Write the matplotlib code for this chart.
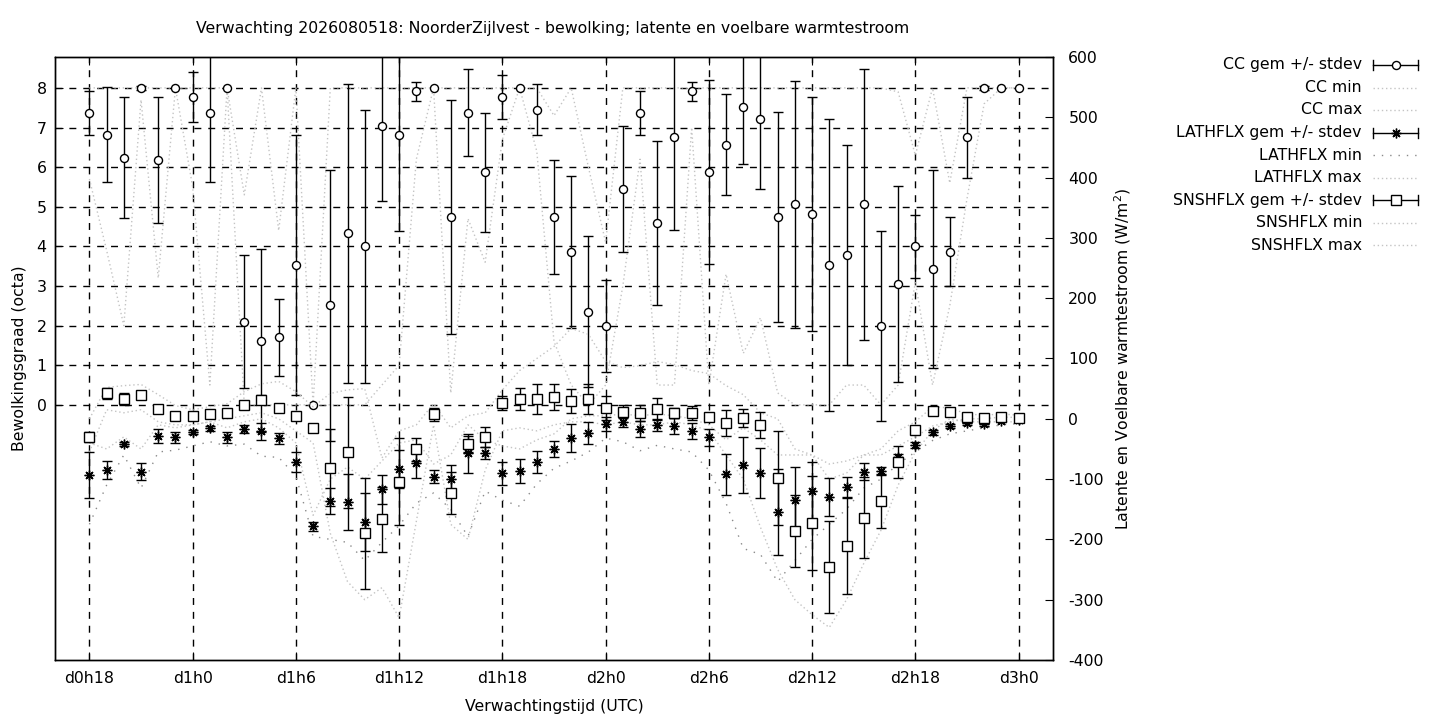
import numpy as np
import matplotlib.pyplot as plt

# === data: forecast hours 18..72 (d0h18 .. d3h0) ===
hours = list(range(18, 73))

cc_mean = [7.37, 6.82, 6.24, 8.0, 6.18, 8.0, 7.77, 7.37, 8.0, 2.1,
           1.62, 1.71, 3.53, 0.0, 2.51, 4.33, 4.0, 7.05, 6.82, 7.92,
           8.0, 4.74, 7.37, 5.87, 7.77, 8.0, 7.45, 4.74, 3.86, 2.35,
           2.0, 5.46, 7.37, 4.59, 6.75, 7.92, 5.87, 6.57, 7.52, 7.22,
           4.74, 5.06, 4.81, 3.53, 3.78, 5.06, 2.0, 3.05, 4.0, 3.43,
           3.86, 6.75, 8.0, 8.0, 8.0]
cc_std = [0.56, 1.2, 1.53, 0.05, 1.59, 0, 0.64, 1.75, 0, 1.67,
          2.31, 0.97, 3.29, 0, 3.43, 3.77, 3.44, 1.91, 2.42, 0.24,
          0, 2.96, 1.1, 1.5, 0.55, 0, 0.64, 1.43, 1.91, 1.9,
          1.16, 1.59, 0.55, 2.07, 2.34, 0.24, 2.32, 1.28, 1.43, 1.76,
          2.64, 3.11, 2.95, 3.69, 2.77, 3.42, 2.4, 2.48, 0.8, 2.5,
          0.87, 1.03, 0.05, 0, 0]
cc_min = [5.7, 3.9, 2.0, 7.7, 3.2, 8.0, 5.5, 0.5, 8.0, 0,
          0, 0, 0, 0, 0, 0, 0, 0.5, 1.0, 6.2,
          8.0, 0.3, 4.7, 3.6, 6.7, 8.0, 6.4, 1.6, 0.5, 0,
          0.5, 3.0, 6.2, 0.5, 0.5, 7.0, 0.5, 3.3, 1.3, 2.2,
          0.3, 0, 0, 0, 0.5, 0.5, 0, 0.5, 3.1, 0.5,
          2.5, 5.2, 7.6, 8.0, 8.0]
cc_max = [8, 8, 8, 8, 8, 8, 8, 8, 8, 5.3,
          8, 4.4, 8, 0, 8, 8, 8, 8, 8, 8,
          8, 8, 8, 8, 8, 8, 8, 7.3, 8, 6.0,
          4.1, 8, 8, 8, 8, 8, 8, 8, 8, 8,
          8, 8, 8, 8, 8, 8, 8, 7.9, 6.3, 8,
          5.6, 8, 8, 8, 8]

lat_mean = [-93.4, -85, -42, -88, -28.8, -31, -22, -16, -30.4, -17,
            -21, -32, -72, -178.6, -136.5, -138, -171.4, -116.6, -83.4, -73.5,
            -96.2, -100, -57.5, -56.9, -90, -86.8, -71.3, -50.3, -32, -23.8,
            -8.8, -5, -17, -10.5, -12, -20.4, -30.4, -91.8, -76.9, -90,
            -154.8, -134.3, -119.4, -130, -113, -88, -86.8, -64, -43.7, -22.1,
            -12, -7.2, -8.8, -3.9, -2.2]
lat_std = [38.7, 15, 3, 14, 12, 9, 3, 4, 9, 7,
           14, 9, 16.5, 8, 22, 46, 48, 24, 31.5, 25,
           11, 24, 33, 10, 19, 19.5, 18, 13, 23, 18,
           11, 9, 14, 10, 14, 13, 14, 34, 46, 41.5,
           71, 54, 47, 31, 16, 14, 7, 6, 5, 4,
           3, 3, 3, 2, 2]
lat_min = [-175, -110, -60, -115, -55, -52, -45, -38, -45, -42,
           -62, -64, -95, -195, -200, -205, -235, -205, -177, -140,
           -123, -150, -195, -120, -135, -145, -108, -82, -70, -55,
           -32, -38, -53, -44, -50, -55, -85, -140, -215, -225,
           -270, -235, -200, -175, -150, -115, -100, -75, -55, -36,
           -25, -20, -15, -10, -8]
lat_max = [-40, -50, -30, -50, -10, -15, -10, -5, -15, -5,
           0, -15, -40, -160, -100, -80, -100, -70, -40, -35,
           -75, -60, -10, -35, -45, -50, -35, -25, 0, 5,
           5, 8, 5, 8, 5, 0, -10, -35, -15, -35,
           -60, -60, -60, -75, -70, -60, -60, -45, -30, -12,
           -5, 0, 0, 3, 2]

sns_mean = [-30.4, 42.6, 33, 39.8, 16, 4.4, 4.4, 7.7, 9.4, 22.7,
            31.5, 17.7, 5.0, -15.5, -81, -55.3, -189.6, -166.4, -104.5, -50.3,
            7.7, -123, -41.5, -29.9, 26, 32.6, 32.6, 36.5, 29.3, 33.2,
            17.7, 11.6, 9.4, 16, 9.4, 9.4, 2.8, -7.2, 1.1, -10.5,
            -98.4, -186.3, -172.5, -246, -211, -164, -136.5, -71.3, -18.2, 12.2,
            11.6, 2.2, 0.6, 3.3, 0.6]
sns_std = [7.7, 9, 10.5, 3, 2, 2, 2, 2, 2, 3,
           7.7, 6.6, 4, 3, 64, 92, 92, 54, 72, 19,
           11, 35, 13, 17, 12, 18, 25, 22, 20, 25,
           20, 11, 13, 18, 8, 12, 3, 21.5, 15, 21,
           78, 60, 78, 76, 80, 67, 45, 27, 6, 3,
           3, 3, 3, 3, 3]
sns_min = [-55, 15, 10, 15, -5, -10, -10, -5, 0, 5,
           10, 0, -20, -40, -190, -270, -300, -280, -330, -170,
           -10, -175, -200, -85, -20, -15, -20, -10, -5, -5,
           -10, -5, -10, -10, -5, -10, -20, -60, -100, -180,
           -250, -300, -325, -346, -300, -240, -185, -110, -55, -20,
           0, -5, -5, -5, -5]
sns_max = [0, 52, 55, 57, 40, 22, 15, 20, 25, 45,
           58, 62, 45, 20, 42, 48, 50, -65, -20, -10,
           25, -15, 5, 10, 48, 80, 100, 120, 150, 140,
           95, 85, 88, 95, 90, 80, 75, 55, 40, 10,
           0, -50, -60, -100, -90, -60, -50, -20, -5, 20,
           18, 8, 6, 8, 6]

tick_hours = [18, 24, 30, 36, 42, 48, 54, 60, 66, 72]
tick_labels = ['d0h18', 'd1h0', 'd1h6', 'd1h12', 'd1h18',
               'd2h0', 'd2h6', 'd2h12', 'd2h18', 'd3h0']

# === styles ===
plt.rcParams['font.family'] = 'DejaVu Sans'
plt.rcParams['axes.unicode_minus'] = False
FS = 11.3
light = dict(color='#c4c4c4', lw=1.0, linestyle=(0, (1, 2)))
dark = dict(color='#8a8a8a', lw=1.0, linestyle=(0, (1, 5)))
eb = dict(ecolor='black', elinewidth=1, capsize=3.6, capthick=1,
          mec='black', color='black', linestyle='none')

def nz(s):
    s = np.array(s, dtype=float)
    return np.where(s > 0, s, np.nan)

fig = plt.figure(figsize=(14.4, 7.2), dpi=100)
ax = fig.add_axes([55 / 1440, 60 / 720, 998 / 1440, 603 / 720])
ax2 = ax.twinx()

# CC on left axis
ax.plot(hours, cc_min, **light)
ax.plot(hours, cc_max, **light)
ax.errorbar(hours, cc_mean, yerr=nz(cc_std), fmt='o', ms=5.8, mfc='white',
            mew=1, **eb)

# fluxes on right axis
ax2.plot(hours, lat_min, **dark)
ax2.plot(hours, lat_max, **light)
ax2.plot(hours, sns_min, **light)
ax2.plot(hours, sns_max, **light)
ax2.errorbar(hours, lat_mean, yerr=lat_std, fmt='none', **eb)
ax2.plot(hours, lat_mean, linestyle='none', marker=(8, 2, 0), ms=7,
         mec='black', mew=1.0, color='black')
ax2.errorbar(hours, sns_mean, yerr=sns_std, fmt='s', ms=6.5, mfc='white',
             mew=1, **eb)

ax.set_xlim(16, 74)
ax.set_ylim(-6.44, 8.78)
ax2.set_ylim(-400, 600)

ax.set_xticks(tick_hours)
ax.set_xticklabels(tick_labels)
ax.set_yticks(range(0, 9))
ax2.set_yticks(range(-400, 601, 100))

ax.grid(True, color='black', lw=1, linestyle=(0, (5, 5)))
ax.tick_params(direction='in', length=6, labelsize=FS, pad=8, top=True)
ax.tick_params(axis='y', pad=6)
ax2.tick_params(direction='in', length=6, labelsize=FS, pad=11)
for a in (ax, ax2):
    for s in a.spines.values():
        s.set_linewidth(1)
        s.set_color('black')

ax.set_xlabel('Verwachtingstijd (UTC)', fontsize=FS, labelpad=9)
ax.set_ylabel('Bewolkingsgraad (octa)', fontsize=FS, labelpad=7)
ax2.set_ylabel('Latente en Voelbare warmtestroom (W/m$^2$)', fontsize=FS,
               labelpad=6)
fig.text(553 / 1440, 1 - 29 / 720,
         'Verwachting 2026080518: NoorderZijlvest - bewolking; '
         'latente en voelbare warmtestroom',
         ha='center', va='center', fontsize=FS)

# === legend (pixel layout, right of the plot) ===
lax = fig.add_axes([0, 0, 1, 1], frameon=False)
lax.set_xlim(0, 1440)
lax.set_ylim(720, 0)
lax.set_axis_off()
entries = [('CC gem +/- stdev', 'o'), ('CC min', light), ('CC max', light),
           ('LATHFLX gem +/- stdev', 'star'), ('LATHFLX min', dark),
           ('LATHFLX max', light), ('SNSHFLX gem +/- stdev', 's'),
           ('SNSHFLX min', light), ('SNSHFLX max', light)]
x0, x1, y0, dy = 1373, 1418, 65, 22.5
for i, (lab, sty) in enumerate(entries):
    y = y0 + i * dy
    lax.text(1362, y, lab, ha='right', va='center', fontsize=FS)
    if isinstance(sty, dict):
        lax.plot([x0, x1], [y, y], **sty)
    else:
        lax.plot([x0, x1], [y, y], color='black', lw=1)
        lax.plot([x0, x0], [y - 5, y + 5], color='black', lw=1)
        lax.plot([x1, x1], [y - 5, y + 5], color='black', lw=1)
        if sty == 'star':
            lax.plot([(x0 + x1) / 2], [y], marker=(8, 2, 0), ms=7,
                     color='black', mew=1)
        else:
            lax.plot([(x0 + x1) / 2], [y], marker=sty,
                     ms=5.8 if sty == 'o' else 6.5, mfc='white',
                     mec='black', mew=1)

fig.savefig('out.png', dpi=100)
